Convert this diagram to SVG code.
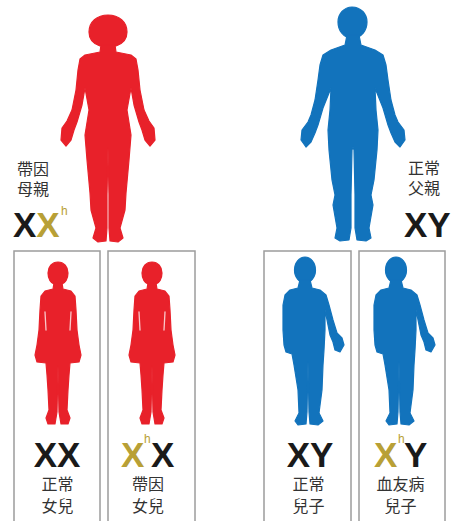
<svg xmlns="http://www.w3.org/2000/svg" width="452" height="521" viewBox="0 0 452 521">
  <style>
    .red { fill: #e8212a; stroke: #e8212a; stroke-width: 1.2; stroke-linejoin: round; }
    .blue { fill: #1273bc; stroke: #1273bc; stroke-width: 1.2; stroke-linejoin: round; }
    .box { fill: none; stroke: #9c9c9c; stroke-width: 1.5; }
    .gap { stroke: #ffffff; stroke-width: 1.3; stroke-opacity: 0.75; stroke-linecap: round; }
    .cn { font-family: "Noto Sans CJK TC", "Noto Sans CJK SC", sans-serif; font-size: 16px; fill: #333333; }
    .gene { font-family: "Liberation Sans", Arial, sans-serif; font-weight: bold; font-size: 35px; fill: #1a1a1a; }
    .gold { fill: #b8a036; }
    .sup { font-family: "Liberation Sans", Arial, sans-serif; font-weight: normal; font-size: 12px; fill: #b8a036; }
    .mid { text-anchor: middle; }
  </style>
  <defs>
    <g id="girl">
      <path class="red" d="M58,262 C64,262 68,267 68,273 C68,279 65,283 62,284 L54,284 C51,283 48,279 48,273 C48,267 52,262 58,262 Z"/>
      <path class="red" d="M62,283 L63,289 L71,291 L75,296 L76,310 L77,330 L79,345 L81,355 L79,362 L70,363 L69,375 L68,390 L67,410 L70,418 L68,424 L61,424 L59,412 L58,366 L57,412 L55,424 L48,424 L46,418 L49,410 L48,390 L47,375 L46,363 L37,362 L35,355 L37,345 L39,330 L40,310 L41,296 L45,291 L53,289 L54,283 Z"/>
      <line class="gap" x1="45" y1="312" x2="46" y2="330"/>
      <line class="gap" x1="71" y1="312" x2="70" y2="330"/>
    </g>
    <g id="boy">
      <ellipse class="blue" cx="305" cy="270" rx="10.5" ry="13"/>
      <path class="blue" d="M310,280 L312,288 L320,290 L326,295 L329,305 L333,320 L337,333 L342,338 L344,345 L340,352 L335,350 L333,342 L330,335 L327,320 L325,310 L325,330 L324,350 L323,365 L322,390 L319,413 L323,421 L318,425 L310,424 L309,412 L308,362 L307,412 L306,424 L298,425 L295,421 L299,413 L298,390 L294,365 L292,354 L286,352 L284,345 L283,330 L283,305 L285,295 L290,290 L298,288 L300,280 Z"/>
    </g>
  </defs>

  <!-- carrier mother -->
  <g id="mother">
    <path class="red" d="M108,15 C119,15 127,22 127,32 C127,40 122,44 116,46 L100,46 C94,44 89,40 89,32 C89,22 97,15 108,15 Z"/>
    <path class="red" d="M101,45 L100,52 L85,55 L80,59 L78,70 L76,90 L72,110 L67,121 L62,128 L61,140 L66,146 L71,140 L74,130 L77,122 L82,105 L85,88 L89,110 L85,135 L87,160 L90,193 L91,210 L96,228 L93,238 L98,242 L106,241 L107,228 L107,195 L108,148 L109,195 L109,228 L110,241 L118,242 L123,238 L120,228 L125,210 L126,193 L129,160 L131,135 L127,110 L131,88 L134,105 L139,122 L142,130 L145,140 L150,146 L155,140 L154,128 L149,121 L144,110 L140,90 L138,70 L136,59 L131,55 L116,52 L115,45 Z"/>
    <text><tspan class="cn" x="17" y="175">帶因</tspan><tspan class="cn" x="17" y="195">母親</tspan><tspan class="gene" x="13" y="237">X</tspan><tspan class="gene gold">X</tspan><tspan class="sup" x="61" y="215">h</tspan></text>
  </g>

  <!-- normal father -->
  <g id="father">
    <path class="blue" d="M352,7 C361,7 367,14 367,22 C367,30 362,38 352,38 C343,38 338,30 338,22 C338,14 344,7 352,7 Z"/>
    <path class="blue" d="M359,35 L361,45 L375,50 L383,55 L386,65 L388,80 L391,100 L395,115 L398,122 L404,130 L405,140 L400,147 L395,142 L391,133 L388,125 L383,108 L375,88 L376,110 L378,130 L377,150 L374,180 L371,195 L373,205 L369,228 L371,238 L366,241 L357,240 L355,228 L355,195 L354,150 L353,147 L352,150 L351,195 L351,228 L349,240 L340,241 L335,238 L337,228 L333,205 L335,195 L332,180 L329,150 L328,130 L330,110 L331,88 L323,108 L318,125 L315,133 L311,142 L306,147 L301,140 L302,130 L308,122 L311,115 L315,100 L318,80 L320,65 L323,55 L331,50 L345,45 L347,35 Z"/>
    <text><tspan class="cn" x="408" y="174">正常</tspan><tspan class="cn" x="408" y="194">父親</tspan><tspan class="gene" x="404" y="237">XY</tspan></text>
  </g>

  <!-- children -->
  <g id="daughter-normal">
    <rect class="box" x="14" y="251" width="86" height="290"/>
    <use href="#girl"/>
    <text class="mid"><tspan class="gene" x="57" y="467">XX</tspan><tspan class="cn" x="57.5" y="490">正常</tspan><tspan class="cn" x="57.5" y="512">女兒</tspan></text>
  </g>

  <g id="daughter-carrier">
    <rect class="box" x="108" y="251" width="87" height="290"/>
    <use href="#girl" transform="translate(94,0)"/>
    <text><tspan class="gene gold" x="121" y="467">X</tspan><tspan class="sup" x="144" y="443">h</tspan><tspan class="gene" x="151" y="467">X</tspan><tspan class="cn mid" x="148" y="490">帶因</tspan><tspan class="cn mid" x="148" y="512">女兒</tspan></text>
  </g>

  <g id="son-normal">
    <rect class="box" x="264" y="251" width="87" height="290"/>
    <use href="#boy"/>
    <text class="mid"><tspan class="gene" x="310" y="467">XY</tspan><tspan class="cn" x="308.5" y="490">正常</tspan><tspan class="cn" x="308.5" y="512">兒子</tspan></text>
  </g>

  <g id="son-hemophilia">
    <rect class="box" x="359" y="251" width="86" height="290"/>
    <use href="#boy" transform="translate(91,0)"/>
    <text><tspan class="gene gold" x="374" y="467">X</tspan><tspan class="sup" x="398" y="443">h</tspan><tspan class="gene" x="404" y="467">Y</tspan><tspan class="cn mid" x="400.5" y="490">血友病</tspan><tspan class="cn mid" x="400.5" y="512">兒子</tspan></text>
  </g>

  <!-- no connectors in this figure -->
  <g id="connectors"/>
</svg>
